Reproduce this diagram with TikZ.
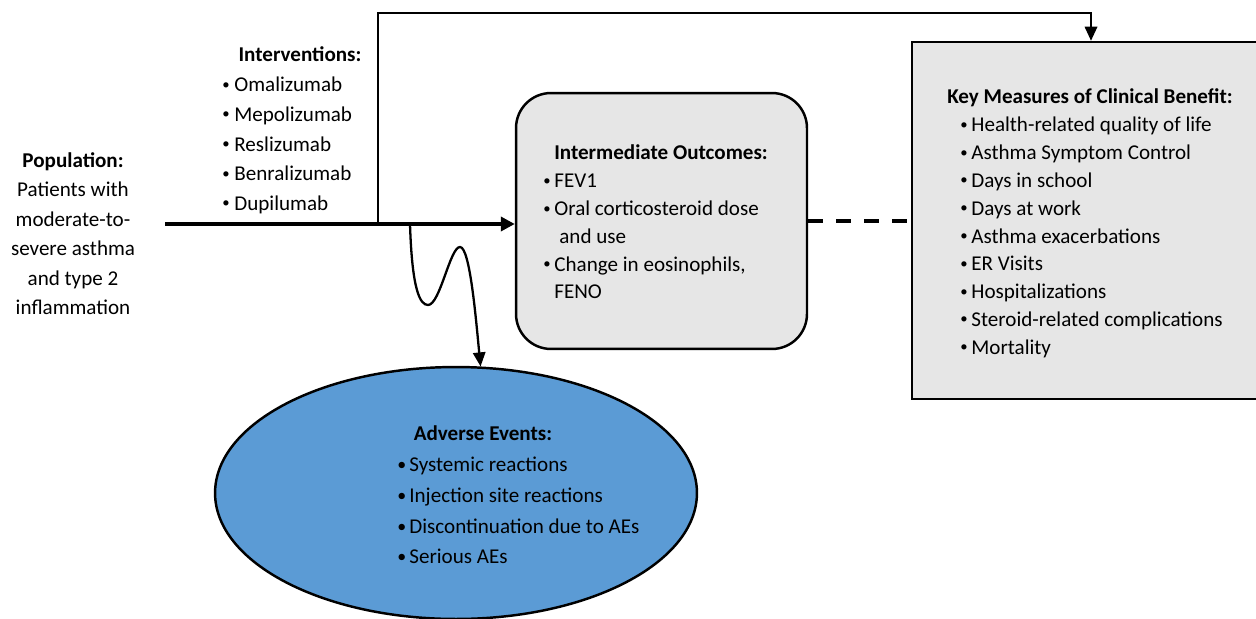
\documentclass[tikz,border=0pt]{standalone}
\usepackage{fontspec}
\setmainfont{Carlito}
\usepackage{tikz}
\usetikzlibrary{shapes.geometric, arrows.meta, positioning}
\definecolor{aeblue}{HTML}{5B9BD5}
\definecolor{boxgray}{HTML}{E6E6E6}
\tikzstyle{arrow}  = [line width=2.2pt, -{Triangle[length=8pt, width=8pt]}]
\tikzstyle{thin arrow} = [line width=1.3pt, -{Triangle[length=8pt, width=7pt]}]
\tikzset{every node/.style={align=center}}
\newcommand{\bul}[1][0.22cm]{\makebox[#1][l]{\raisebox{0.25ex}{\scalebox{0.7}{\textbullet}}}}
\newcommand{\bigbul}{\makebox[0.24cm][l]{\raisebox{0.1ex}{\scalebox{0.85}{\textbullet}}}}

\begin{document}
\begin{tikzpicture}[x=0.02cm, y=-0.02cm,
    outcome/.style={rectangle, rounded corners=0.7cm, draw, line width=1.4pt,
                    fill=boxgray, minimum width=5.82cm, minimum height=5.12cm},
    benefit/.style={rectangle, draw, line width=1.4pt, fill=boxgray,
                    minimum width=7.16cm, minimum height=7.14cm},
    harm/.style={ellipse, draw, line width=1.4pt, fill=aeblue,
                 minimum width=9.64cm, minimum height=5.04cm},
    title/.style={font=\fontsize{12}{14}\selectfont\bfseries, inner sep=0, anchor=base},
    items/.style={align=left, inner sep=0, anchor=north west}
]
  \useasboundingbox (0,0) rectangle (1256,618);

  % --- boxes ---
  \node[outcome] (inter) at (661.5,221) {};
  \node[benefit] (key)   at (1091,220.5) {};
  \node[harm]    (ae)    at (456,493) {};

  % --- population and interventions ---
  \node[inner sep=0, anchor=north, font=\fontsize{12}{16.8}\selectfont] (pop) at (73,152)
       {\textbf{Population:}\\Patients with\\moderate-to-\\severe asthma\\and type 2\\inflammation};
  \node[title] (intvtitle) at (300,62) {Interventions:};
  \node[items, font=\fontsize{12}{16.8}\selectfont] (intv) at (222,77)
       {\bul[0.24cm]Omalizumab\\\bul[0.24cm]Mepolizumab\\\bul[0.24cm]Reslizumab\\
        \bul[0.24cm]Benralizumab\\\bul[0.24cm]Dupilumab};

  % --- intermediate outcomes ---
  \node[title] (intertitle) at (661,160) {Intermediate Outcomes:};
  \node[items, font=\fontsize{12}{15.8}\selectfont] (interlist) at (543,174)
       {\bul FEV1\\\bul Oral corticosteroid dose\\\hspace*{0.32cm}and use\\
        \bul Change in eosinophils,\\\hspace*{0.22cm}FENO};

  % --- key measures ---
  \node[title] (keytitle) at (1090,104) {Key Measures of Clinical Benefit:};
  \node[items, font=\fontsize{12}{15.8}\selectfont] (keylist) at (960,117)
       {\bul Health-related quality of life\\\bul Asthma Symptom Control\\
        \bul Days in school\\\bul Days at work\\\bul Asthma exacerbations\\
        \bul ER Visits\\\bul Hospitalizations\\\bul Steroid-related complications\\
        \bul Mortality};

  % --- adverse events ---
  \node[title] (aetitle) at (483,440) {Adverse Events:};
  \node[items, font=\fontsize{12}{17.4}\selectfont] (aelist) at (397,457)
       {\bigbul Systemic reactions\\\bigbul Injection site reactions\\
        \bigbul Discontinuation due to AEs\\\bigbul Serious AEs};

  % --- connectors ---
  \coordinate (start)  at (165,224);
  \coordinate (branch) at (378,224);
  \coordinate (wave)   at (410,224);
  \draw[arrow] (start) -- (start -| inter.west);
  \draw[thin arrow] (branch) -- (378,13) -| (key.north);
  \draw[line width=2.4pt, dash pattern=on 0.3cm off 0.26cm] (inter.east) -- (key.west |- inter.east);
  \draw[thin arrow] (wave) .. controls (412,290) and (420,305) .. (428,305)
        .. controls (440,305) and (450,247) .. (460,247)
        .. controls (470,247) and (476,320) .. (ae.79);
\end{tikzpicture}
\end{document}
